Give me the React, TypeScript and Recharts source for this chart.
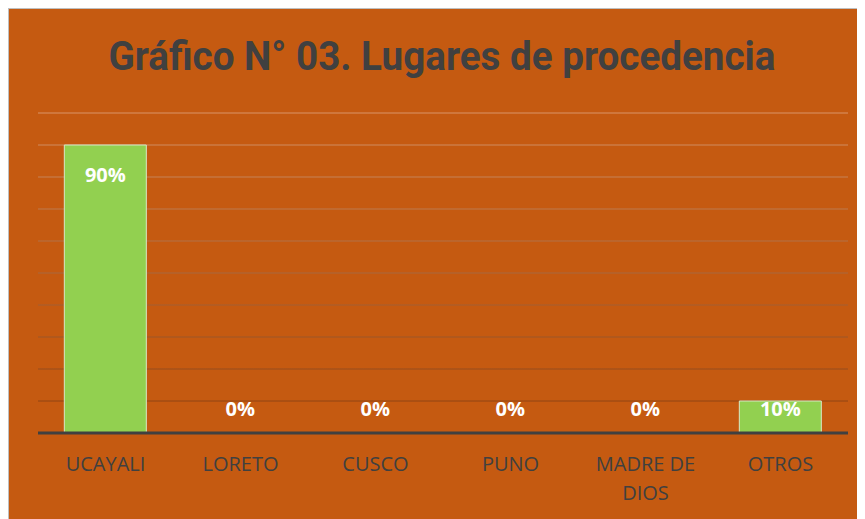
import { BarChart, Bar, XAxis, YAxis, CartesianGrid, LabelList, Text, Rectangle } from 'recharts';

const categories = ['UCAYALI', 'LORETO', 'CUSCO', 'PUNO', 'MADRE DE DIOS', 'OTROS'];
const percentages = [90, 0, 0, 0, 0, 10];
const yTicks = [0, 10, 20, 30, 40, 50, 60, 70, 80, 90, 100];
const title = 'Gráfico N° 03. Lugares de procedencia';

const chartData = categories.map((name, i) => ({ name, value: percentages[i] }));

const W = 860;
const H = 515;

// category labels, long ones wrap on two lines
const CategoryTick = (props: any) => {
  const { x, y, payload } = props;
  return (
    <Text
      x={x}
      y={y + 16}
      width={118}
      textAnchor="middle"
      verticalAnchor="start"
      lineHeight={29}
      fill="#404040"
      style={{ fontFamily: 'Open Sans', fontSize: 20 }}
    >
      {payload.value}
    </Text>
  );
};

// zero values get a 1px bar (so the label exists) but nothing is drawn
const BarShape = (props: any) => {
  if (!props.value) return <g />;
  return <Rectangle {...props} />;
};

// Excel-like inside end label, pushed above the axis when the bar is too short
const ValueLabel = (props: any) => {
  const { x, y, width, height, value } = props;
  const base = y + height;
  const cy = Math.min(y + 29, base - 25);
  return (
    <text
      x={x + width / 2}
      y={cy}
      textAnchor="middle"
      dominantBaseline="central"
      fill="#ffffff"
      style={{ fontFamily: 'Open Sans', fontSize: 20, fontWeight: 700 }}
    >
      {`${value}%`}
    </text>
  );
};

export default function App() {
  return (
    <div
      style={{
        width: W,
        height: H,
        background: '#C55A11',
        borderLeft: '1px solid #BFBFBF',
        borderTop: '1px solid #BFBFBF',
      }}
    >
      <BarChart
        width={W}
        height={H}
        data={chartData}
        margin={{ top: 104, right: 21, bottom: 31, left: 29 }}
        barCategoryGap="19.5%"
      >
        <defs>
          <linearGradient id="gridFade" gradientUnits="userSpaceOnUse" x1="0" y1="104" x2="0" y2="424">
            <stop offset="0%" stopColor="#D99468" />
            <stop offset="50%" stopColor="#A8683F" />
            <stop offset="100%" stopColor="#8A3A08" />
          </linearGradient>
        </defs>
        <text
          x={433}
          y={61}
          textAnchor="middle"
          textLength={667}
          lengthAdjust="spacingAndGlyphs"
          fill="#404040"
          style={{ fontFamily: 'Roboto', fontSize: 41, fontWeight: 700 }}
        >
          {title}
        </text>
        <CartesianGrid vertical={false} stroke="url(#gridFade)" strokeWidth={1} />
        <YAxis hide domain={[0, 100]} ticks={yTicks} width={0} />
        <XAxis
          dataKey="name"
          height={60}
          axisLine={{ stroke: '#404040', strokeWidth: 3 }}
          tickLine={false}
          tick={<CategoryTick />}
          interval={0}
        />
        <Bar
          dataKey="value"
          fill="#92D050"
          stroke="#D8E8C8"
          strokeWidth={1}
          minPointSize={1}
          shape={<BarShape />}
          isAnimationActive={false}
        >
          <LabelList dataKey="value" content={<ValueLabel />} />
        </Bar>
      </BarChart>
    </div>
  );
}
